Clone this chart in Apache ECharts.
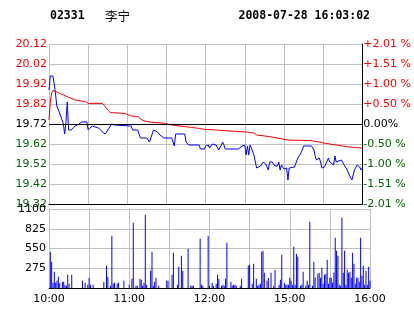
<!DOCTYPE html>
<html><head><meta charset="utf-8">
<script src="https://cdn.jsdelivr.net/npm/echarts@6/dist/echarts.min.js"></script>
<style>html,body{margin:0;padding:0;background:#fff}#c{width:414px;height:314px}</style>
</head><body><div id="c"></div>
<script>
const stockCode = '02331';
const stockName = '李宁';
const timestamp = '2008-07-28 16:03:02';
const prevClose = 19.72;
const pctLabels = ['-2.01 %','-1.51 %','-1.00 %','-0.50 %','0.00%','+0.50 %','+1.00 %','+1.51 %','+2.01 %'];
const timeTickMinutes = [0, 60, 120, 180, 240];
const timeTickLabels = ['10:00', '11:00', '12:00', '15:00', '16:00'];

// [minute index from 10:00, price]
const priceLine = [[0,19.89],[1,19.96],[3,19.96],[4,19.92],[5,19.87],[6,19.81],[7,19.80],[9,19.76],[11,19.72],[12,19.67],[13,19.73],[14,19.83],[15,19.69],[17,19.69],[20,19.71],[23,19.72],[25,19.73],[29,19.73],[30,19.69],[31,19.70],[33,19.71],[38,19.70],[41,19.68],[43,19.67],[44,19.68],[46,19.70],[48,19.72],[49,19.73],[50,19.715],[51,19.71],[63,19.71],[64,19.69],[68,19.69],[70,19.65],[75,19.65],[77,19.63],[78,19.63],[79,19.67],[80,19.69],[83,19.68],[85,19.665],[88,19.65],[94,19.65],[96,19.61],[97,19.67],[104,19.67],[105,19.63],[107,19.615],[115,19.615],[116,19.595],[119,19.595],[120,19.61],[121,19.60],[122,19.615],[123,19.60],[125,19.62],[126,19.63],[128,19.615],[129,19.61],[130,19.59],[132,19.615],[133,19.63],[134,19.615],[135,19.595],[145,19.595],[146,19.605],[148,19.61],[150,19.615],[151,19.565],[152,19.61],[153,19.565],[154,19.615],[155,19.60],[156,19.605],[157,19.565],[158,19.56],[159,19.50],[160,19.50],[162,19.51],[164,19.53],[166,19.52],[167,19.53],[168,19.49],[169,19.53],[171,19.53],[173,19.51],[174,19.52],[175,19.51],[176,19.53],[177,19.49],[178,19.515],[180,19.495],[182,19.50],[183,19.44],[184,19.50],[188,19.505],[190,19.54],[191,19.555],[193,19.575],[194,19.59],[195,19.61],[201,19.61],[203,19.59],[204,19.555],[205,19.54],[207,19.55],[208,19.53],[209,19.50],[211,19.505],[212,19.52],[214,19.55],[215,19.53],[216,19.54],[218,19.515],[219,19.56],[220,19.53],[221,19.52],[224,19.54],[226,19.515],[228,19.495],[230,19.465],[232,19.44],[234,19.49],[236,19.515],[238,19.505],[239,19.49],[240,19.50]];

// [minute, average price]
const avgLine = [[0,19.74],[1,19.83],[2,19.875],[3,19.887],[5,19.883],[8,19.873],[11,19.865],[14,19.857],[17,19.848],[20,19.84],[28,19.832],[30,19.823],[41,19.823],[43,19.807],[45,19.79],[47,19.777],[58,19.773],[63,19.76],[68,19.757],[72,19.737],[77,19.73],[90,19.723],[92,19.717],[100,19.71],[109,19.703],[115,19.698],[119,19.693],[128,19.69],[138,19.685],[151,19.68],[157,19.675],[159,19.665],[169,19.657],[183,19.64],[201,19.637],[209,19.627],[215,19.62],[225,19.61],[234,19.602],[240,19.60]];

// [minute, volume]
const volumeData = [[1,506],[2,367],[3,74],[4,227],[5,74],[6,102],[7,158],[8,65],[10,88],[11,88],[12,42],[13,32],[14,186],[15,60],[17,186],[25,102],[27,74],[29,46],[30,144],[31,46],[33,46],[41,88],[43,311],[44,158],[46,32],[47,728],[48,60],[49,74],[51,60],[52,74],[56,102],[60,46],[62,130],[63,909],[65,32],[66,32],[68,130],[69,116],[70,32],[71,74],[72,1021],[73,46],[76,241],[77,506],[78,32],[79,88],[80,144],[82,32],[88,102],[89,102],[92,186],[93,492],[96,46],[97,297],[99,450],[100,241],[104,548],[106,32],[107,32],[108,32],[113,687],[114,46],[115,32],[119,728],[120,32],[122,74],[123,32],[125,60],[126,186],[127,130],[129,32],[130,46],[131,32],[132,130],[133,631],[136,88],[137,32],[138,46],[139,46],[140,32],[143,32],[144,130],[149,311],[150,325],[152,60],[153,339],[155,130],[156,32],[157,46],[158,60],[159,506],[160,520],[161,213],[163,102],[164,144],[166,213],[168,32],[169,255],[172,46],[173,116],[174,464],[176,74],[177,46],[178,46],[179,46],[180,144],[181,102],[182,46],[183,575],[184,46],[185,478],[186,436],[188,32],[189,46],[190,227],[192,32],[193,102],[194,46],[195,923],[197,32],[198,367],[199,144],[201,200],[202,213],[203,144],[204,283],[205,60],[206,186],[207,200],[208,394],[209,60],[210,144],[211,144],[212,74],[213,213],[214,700],[215,520],[216,450],[217,46],[218,32],[219,979],[220,213],[221,520],[222,46],[223,255],[224,213],[225,227],[226,144],[227,492],[228,339],[229,60],[230,144],[231,144],[232,88],[233,700],[234,172],[235,311],[236,46],[237,241],[238,46],[239,297],[240,102]];

const RED = '#ff0000', GREEN = '#006400', BLUE = '#0000ff', GRID = '#c0c0c0';
const FONT = 'DejaVu Sans';
const priceMin = 19.32, priceMax = 20.12, priceStep = 0.1;

function priceColor(v) {
  v = Number(v);
  if (Math.abs(v - prevClose) < 0.001) return '#000';
  return v > prevClose ? RED : GREEN;
}
function tickIndex(v) { return Math.round((Number(v) - priceMin) / priceStep); }

const gridLine = {show: true, showMinLine: true, showMaxLine: true, lineStyle: {color: GRID, width: 1, type: 'solid', opacity: 1}};
const gridLineNoMax = {show: true, showMinLine: true, showMaxLine: false, lineStyle: {color: GRID, width: 1, type: 'solid', opacity: 1}};

const chart = echarts.init(document.getElementById('c'), null, {renderer: 'canvas'});
chart.setOption({
  animation: false,
  backgroundColor: '#fff',
  graphic: [
    {type: 'text', x: 50, y: 16, style: {text: stockCode, font: 'bold 11.5px "DejaVu Sans Mono"', fill: '#000', verticalAlign: 'middle'}},
    {type: 'text', x: 105, y: 16, style: {text: stockName, font: '12.5px "Noto Sans CJK SC"', fill: '#000', verticalAlign: 'middle'}},
    {type: 'text', x: 370, y: 16, style: {text: timestamp, font: 'bold 11.5px "DejaVu Sans Mono"', fill: '#000', align: 'right', verticalAlign: 'middle'}}
  ],
  grid: [
    {left: 49, top: 44, width: 321, height: 160, show: false},
    {left: 49, top: 209, width: 321, height: 79, show: false}
  ],
  xAxis: [
    {type: 'value', gridIndex: 0, min: 0, max: 240, interval: 30,
      axisLine: {show: true, onZero: false, lineStyle: {color: '#000', width: 1}},
      axisTick: {show: false}, axisLabel: {show: false},
      splitLine: gridLineNoMax},
    {type: 'value', gridIndex: 1, min: 0, max: 240, interval: 30,
      axisLine: {show: true, onZero: false, lineStyle: {color: '#000', width: 1}},
      axisTick: {show: false},
      axisLabel: {show: true, margin: 6, color: '#000', fontFamily: FONT, fontSize: 11,
        formatter: function (v) { const i = timeTickMinutes.indexOf(v); return i >= 0 ? timeTickLabels[i] : ''; }},
      splitLine: gridLine}
  ],
  yAxis: [
    {type: 'value', gridIndex: 0, min: priceMin, max: priceMax, interval: priceStep, position: 'left',
      axisLine: {show: true, lineStyle: {color: GRID}}, axisTick: {show: false},
      axisLabel: {margin: 2, fontFamily: FONT, fontSize: 11,
        formatter: function (v) { return Number(v).toFixed(2); },
        color: function (v) { return priceColor(v); }},
      splitLine: gridLine},
    {type: 'value', gridIndex: 0, min: priceMin, max: priceMax, interval: priceStep, position: 'right',
      axisLine: {show: true, lineStyle: {color: '#000'}}, axisTick: {show: false},
      axisLabel: {margin: 1, fontFamily: FONT, fontSize: 11,
        formatter: function (v) { return pctLabels[tickIndex(v)]; },
        color: function (v) { return priceColor(v); }},
      splitLine: {show: false}},
    {type: 'value', gridIndex: 1, min: 0, max: 1100, interval: 275, position: 'left',
      axisLine: {show: true, lineStyle: {color: GRID}}, axisTick: {show: false},
      axisLabel: {margin: 3, color: '#000', fontFamily: FONT, fontSize: 11,
        formatter: function (v) { return v === 0 ? '' : String(v); }},
      splitLine: gridLine},
    {type: 'value', gridIndex: 1, min: 0, max: 1100, interval: 275, position: 'right',
      axisLine: {show: true, lineStyle: {color: GRID}}, axisTick: {show: false},
      axisLabel: {show: false}, splitLine: {show: false}}
  ],
  series: [
    {type: 'line', name: 'avg', xAxisIndex: 0, yAxisIndex: 0, data: avgLine, showSymbol: false, z: 3,
      lineStyle: {color: RED, width: 1}, itemStyle: {color: RED},
      markLine: {silent: true, symbol: 'none', label: {show: false}, animation: false,
        lineStyle: {color: '#000', width: 1, type: 'solid'}, data: [{yAxis: prevClose}]}},
    {type: 'line', name: 'price', xAxisIndex: 0, yAxisIndex: 0, data: priceLine, showSymbol: false, z: 4,
      lineStyle: {color: BLUE, width: 1}, itemStyle: {color: BLUE}},
    {type: 'bar', name: 'vol', xAxisIndex: 1, yAxisIndex: 2, data: volumeData, barWidth: 1,
      itemStyle: {color: BLUE}}
  ]
});
</script></body></html>
